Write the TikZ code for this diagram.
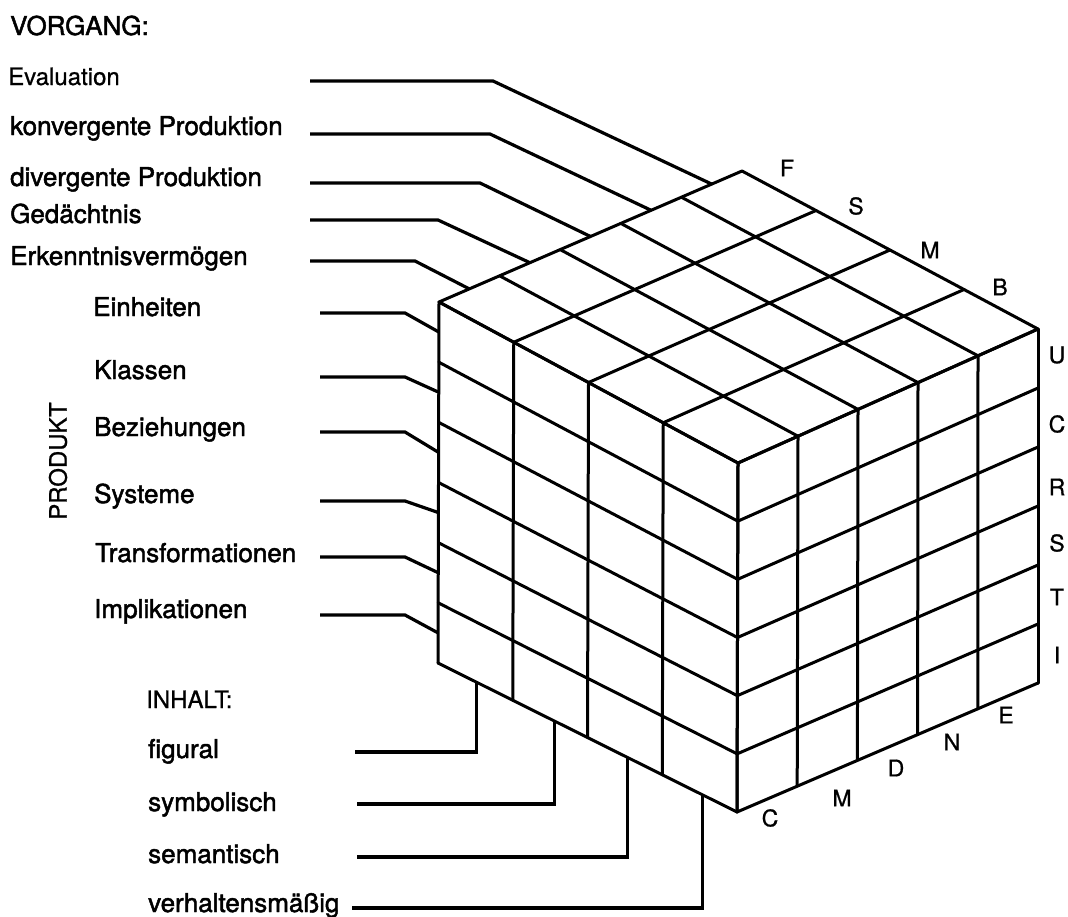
\documentclass[tikz,border=0pt]{standalone}
\usepackage{fontspec}
\setmainfont{TeX Gyre Heros}
\newfontfamily\darkfont[FakeBold=1.8]{TeX Gyre Heros}
\newfontfamily\midfont[FakeBold=0.8]{TeX Gyre Heros}
\usetikzlibrary{calc}

\begin{document}
\begin{tikzpicture}[x=1pt,y=-1pt,
  gridline/.style={line width=3pt, line cap=round},
  lead/.style={line width=3.2pt, line join=miter},
  lbl/.style={anchor=base west, inner sep=0pt, font=\fontsize{26}{30}\selectfont\darkfont},
  lightlbl/.style={anchor=base west, inner sep=0pt, font=\fontsize{24}{30}\selectfont\midfont},
  letter/.style={anchor=center, inner sep=0pt, font=\fontsize{23}{28}\selectfont\midfont}]
\useasboundingbox (0,0) rectangle (1068,916);

% corners of the block
\coordinate (A)  at (439,302);   % top, left
\coordinate (B)  at (738,463);   % top, front
\coordinate (C)  at (1038,329);  % top, right
\coordinate (D)  at (742,171);   % top, back
\coordinate (Al) at (438,663);   % bottom, left
\coordinate (Bl) at (737,812);   % bottom, front
\coordinate (Cl) at (1038,683);  % bottom, right

% top face: 5 operations x 4 contents
\foreach \i in {0,...,5} \draw[gridline] ($(A)!\i/5!(D)$) -- ($(B)!\i/5!(C)$);
\foreach \j in {0,...,4} \draw[gridline] ($(A)!\j/4!(B)$) -- ($(D)!\j/4!(C)$);
% left face: 4 contents x 6 products
\foreach \j in {0,...,4} \draw[gridline] ($(A)!\j/4!(B)$) -- ($(Al)!\j/4!(Bl)$);
\foreach \k in {0,...,6} \draw[gridline] ($(A)!\k/6!(Al)$) -- ($(B)!\k/6!(Bl)$);
% right face: 5 operations x 6 products
\foreach \i in {0,...,5} \draw[gridline] ($(B)!\i/5!(C)$) -- ($(Bl)!\i/5!(Cl)$);
\foreach \k in {0,...,6} \draw[gridline] ($(B)!\k/6!(Bl)$) -- ($(C)!\k/6!(Cl)$);

% anchor points of the leader lines on the block
\foreach \n/\t in {1/0.1,2/0.3,3/0.5,4/0.7,5/0.9}
  \coordinate (op\n) at ($(A)!\t!(D)$);
\foreach \n in {1,...,6}
  \coordinate (pr\n) at ($(A)!{(\n-0.5)/6}!(Al)$);
\foreach \n/\t in {1/0.13,2/0.39,3/0.635,4/0.885}
  \coordinate (co\n) at ($(Al)!\t!(Bl)$);

% operations
\node[lbl] (vorgang) at (10,35) {VORGANG:};
\node[lightlbl] (eval) at (8,85) {Evaluation};
\node[lbl] (konv) at (10,135) {konvergente Produktion};
\node[lbl] (div) at (10,186) {divergente Produktion};
\node[lbl] (ged) at (10,223) {Gedächtnis};
\node[lbl] (erk) at (10,265) {Erkenntnisvermögen};

\coordinate (s5) at (310,81);
\coordinate (s4) at (310,134);
\coordinate (s3) at (310,183);
\coordinate (s2) at (310,220);
\coordinate (s1) at (310,261);
\draw[lead] (s5) -- ++(183,0) -- (op5);
\draw[lead] (s4) -- ++(180,0) -- (op4);
\draw[lead] (s3) -- ++(170,0) -- (op3);
\draw[lead] (s2) -- ++(128,0) -- (op2);
\draw[lead] (s1) -- ++(105,0) -- (op1);

% products
\node[lightlbl, rotate=90, anchor=center] (produkt) at (58,461) {PRODUKT};
\node[lbl] (einh) at (93,316) {Einheiten};
\node[lbl] (klas) at (94,379) {Klassen};
\node[lbl] (bez) at (94,436) {Beziehungen};
\node[lbl] (sys) at (94,503) {Systeme};
\node[lbl] (trans) at (95,562) {Transformationen};
\node[lbl] (impl) at (94,618) {Implikationen};

\foreach \n/\y in {1/313,2/377,3/432,4/501,5/557,6/615}{
  \coordinate (p\n) at (320,\y);
  \draw[lead] (p\n) -- (405,\y) -- (pr\n);
}

% contents
\node[lightlbl] (inhalt) at (146,708) {INHALT:};
\node[lbl] (fig) at (148,758) {figural};
\node[lbl] (sym) at (148,811) {symbolisch};
\node[lbl] (sem) at (148,863) {semantisch};
\node[lbl] (verh) at (148,912) {verhaltensmäßig};

\coordinate (c1) at (355,752);
\coordinate (c2) at (357,804);
\coordinate (c3) at (357,857);
\coordinate (c4) at (352,908);
\draw[lead] (c1) -| (co1);
\draw[lead] (c2) -| (co2);
\draw[lead] (c3) -| (co3);
\draw[lead] (c4) -| (co4);

% letters along the edges
\node[letter] (lF) at (787,168) {F};
\node[letter] (lS) at (856,206) {S};
\node[letter] (lM) at (930,250) {M};
\node[letter] (lB) at (1000,287) {B};

\node[letter] (lU) at (1057,355) {U};
\node[letter] (lC) at (1057,424) {C};
\node[letter] (lR) at (1057,487) {R};
\node[letter] (lS2) at (1057,543) {S};
\node[letter] (lT) at (1057,597) {T};
\node[letter] (lI) at (1057,655) {I};

\node[letter] (bC) at (770,818) {C};
\node[letter] (bM) at (842,798) {M};
\node[letter] (bD) at (896,768) {D};
\node[letter] (bN) at (952,742) {N};
\node[letter] (bE) at (1006,715) {E};
\end{tikzpicture}
\end{document}
